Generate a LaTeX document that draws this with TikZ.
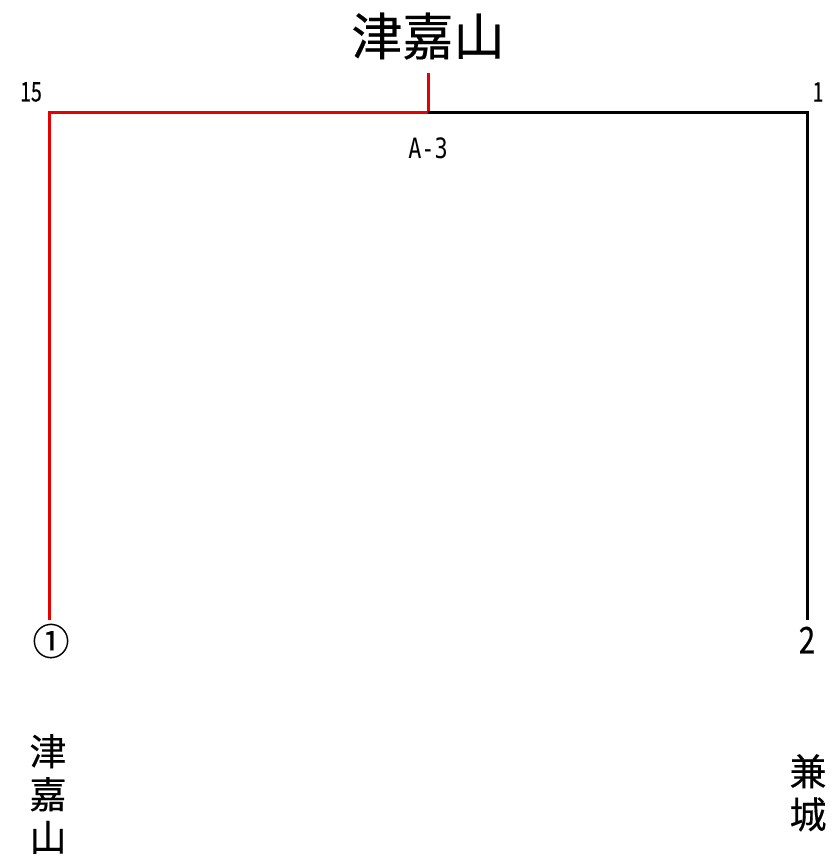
\documentclass[tikz,border=0pt]{standalone}
\usepackage{fontspec}
\setmainfont{Noto Sans CJK JP}
\newfontfamily\cjk[FakeBold=0.4]{Noto Sans CJK JP}
\newfontfamily\monof{DejaVu Sans Mono}
\begin{document}
\begin{tikzpicture}[x=1pt,y=-1pt,
  redline/.style={draw={rgb,255:red,230;green,0;blue,0},line width=3pt},
  blkline/.style={draw=black,line width=3pt},
  lbl/.style={inner sep=0pt,font=\cjk\fontsize{27}{29}\selectfont},
  mono/.style={inner sep=0pt,font=\monof\fontsize{28}{30}\selectfont},
  big/.style={inner sep=0pt,font=\cjk\fontsize{51}{54}\selectfont},
  midl/.style={inner sep=0pt,font=\cjk\fontsize{37}{39}\selectfont},
  vert/.style={inner sep=0pt,align=center,font=\cjk\fontsize{37}{43}\selectfont}]
\useasboundingbox (0,0) rectangle (831,859);
\node[big] (title) at (428,36) {津嘉山};
\coordinate (top) at (428,73);
\coordinate (mid) at (428,112);
\coordinate (lc) at (49,112);
\coordinate (rc) at (807,112);
\coordinate (lb) at (49,620);
\coordinate (rb) at (807,620);
\draw[redline] (top) -- (mid);
\draw[redline] (mid) -- (lc) -- (lb);
\draw[blkline] (mid) -- (rc) -- (rb);
\node[lbl] (n15) at (31,92) {\scalebox{0.72}[1]{15}};
\node[lbl] (n1) at (818,92) {\scalebox{0.72}[1]{1}};
\node[mono] (a3) at (428,148) {\scalebox{0.78}[1]{A-3}};
\node[midl] (c1) at (51,641) {①};
\node[midl] (c2) at (807,640) {\scalebox{0.8}[1]{2}};
\node[vert,anchor=north] (v1) at (48,734) {津\\嘉\\山};
\node[vert,anchor=north] (v2) at (808,754) {兼\\城};
\end{tikzpicture}
\end{document}
